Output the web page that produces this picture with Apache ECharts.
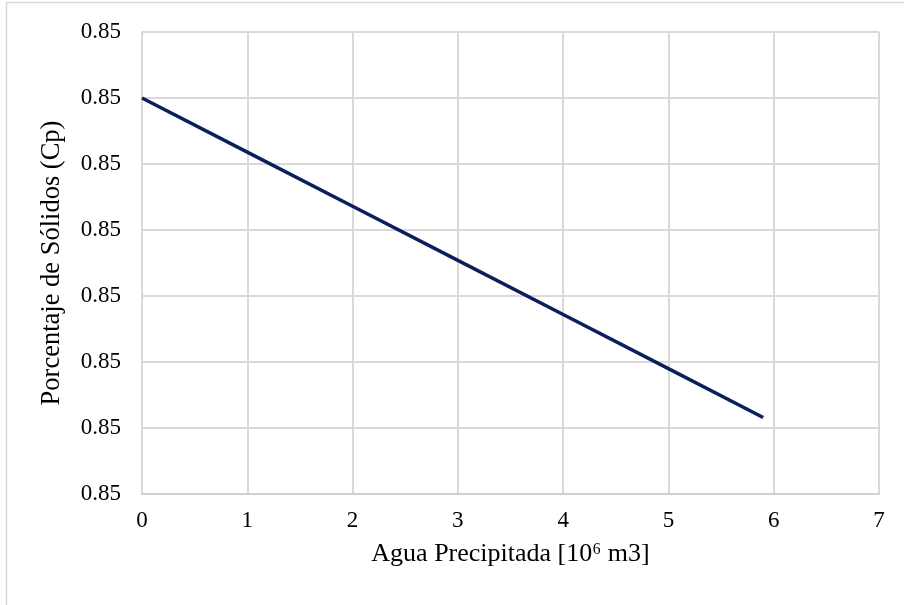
<!DOCTYPE html>
<html>
<head>
<meta charset="utf-8">
<script src="https://cdn.jsdelivr.net/npm/echarts@6/dist/echarts.min.js"></script>
<style>
  html, body { margin: 0; padding: 0; background: #fff; }
  #chart { width: 904px; height: 605px; }
</style>
</head>
<body>
<div id="chart"></div>
<script>
// agua precipitada (10^6 m3) vs porcentaje de solidos
var aguaPrecipitada = [0, 1, 2, 3, 4, 5, 5.9];
var cpValores = [0.85300, 0.85259, 0.85218, 0.85177, 0.85136, 0.85095, 0.85058];
var xTicks = [0, 1, 2, 3, 4, 5, 6, 7];

var myChart = echarts.init(document.getElementById('chart'));
var fuente = '"Liberation Serif", "Times New Roman", serif';

var puntos = aguaPrecipitada.map(function (x, i) { return [x, cpValores[i]]; });

var option = {
    backgroundColor: '#fff',
    animation: false,
    textStyle: { fontFamily: fuente },
    grid: {
        left: 142,
        right: 25,
        top: 32,
        bottom: 111
    },
    graphic: [
        // marco del grafico (solo se ven borde superior e izquierdo)
        { type: 'line', shape: { x1: 6, y1: 2.5, x2: 904, y2: 2.5 }, style: { stroke: '#d9d9d9', lineWidth: 1.5 } },
        { type: 'line', shape: { x1: 6.5, y1: 2, x2: 6.5, y2: 605 }, style: { stroke: '#d9d9d9', lineWidth: 1.5 } }
    ],
    xAxis: {
        type: 'value',
        min: xTicks[0],
        max: xTicks[xTicks.length - 1],
        interval: 1,
        name: 'Agua Precipitada [10⁶ m3]',
        nameLocation: 'middle',
        nameGap: 47,
        nameTextStyle: { color: '#000', fontSize: 26, fontFamily: fuente },
        axisLine: { lineStyle: { color: '#d0d0d0', width: 2 } },
        axisTick: { show: false },
        axisLabel: { color: '#000', fontSize: 23, fontFamily: fuente, margin: 15 },
        splitLine: { show: true, lineStyle: { color: '#d9d9d9', width: 2 } }
    },
    yAxis: {
        type: 'value',
        min: 0.85,
        max: 0.8535,
        interval: 0.0005,
        name: 'Porcentaje de Sólidos (Cp)',
        nameLocation: 'middle',
        nameGap: 76,
        nameTextStyle: { color: '#000', fontSize: 26.5, fontFamily: fuente },
        axisLine: { show: true, lineStyle: { color: '#d9d9d9', width: 2 } },
        axisTick: { show: false },
        axisLabel: {
            color: '#000',
            fontSize: 23,
            fontFamily: fuente,
            margin: 21,
            formatter: function (v) { return v.toFixed(2); }
        },
        splitLine: { show: true, lineStyle: { color: '#d9d9d9', width: 2 } }
    },
    series: [
        {
            type: 'line',
            data: puntos,
            showSymbol: false,
            lineStyle: { color: '#0c1f5b', width: 3.5 },
            itemStyle: { color: '#0c1f5b' }
        }
    ]
};

myChart.setOption(option);
</script>
</body>
</html>
